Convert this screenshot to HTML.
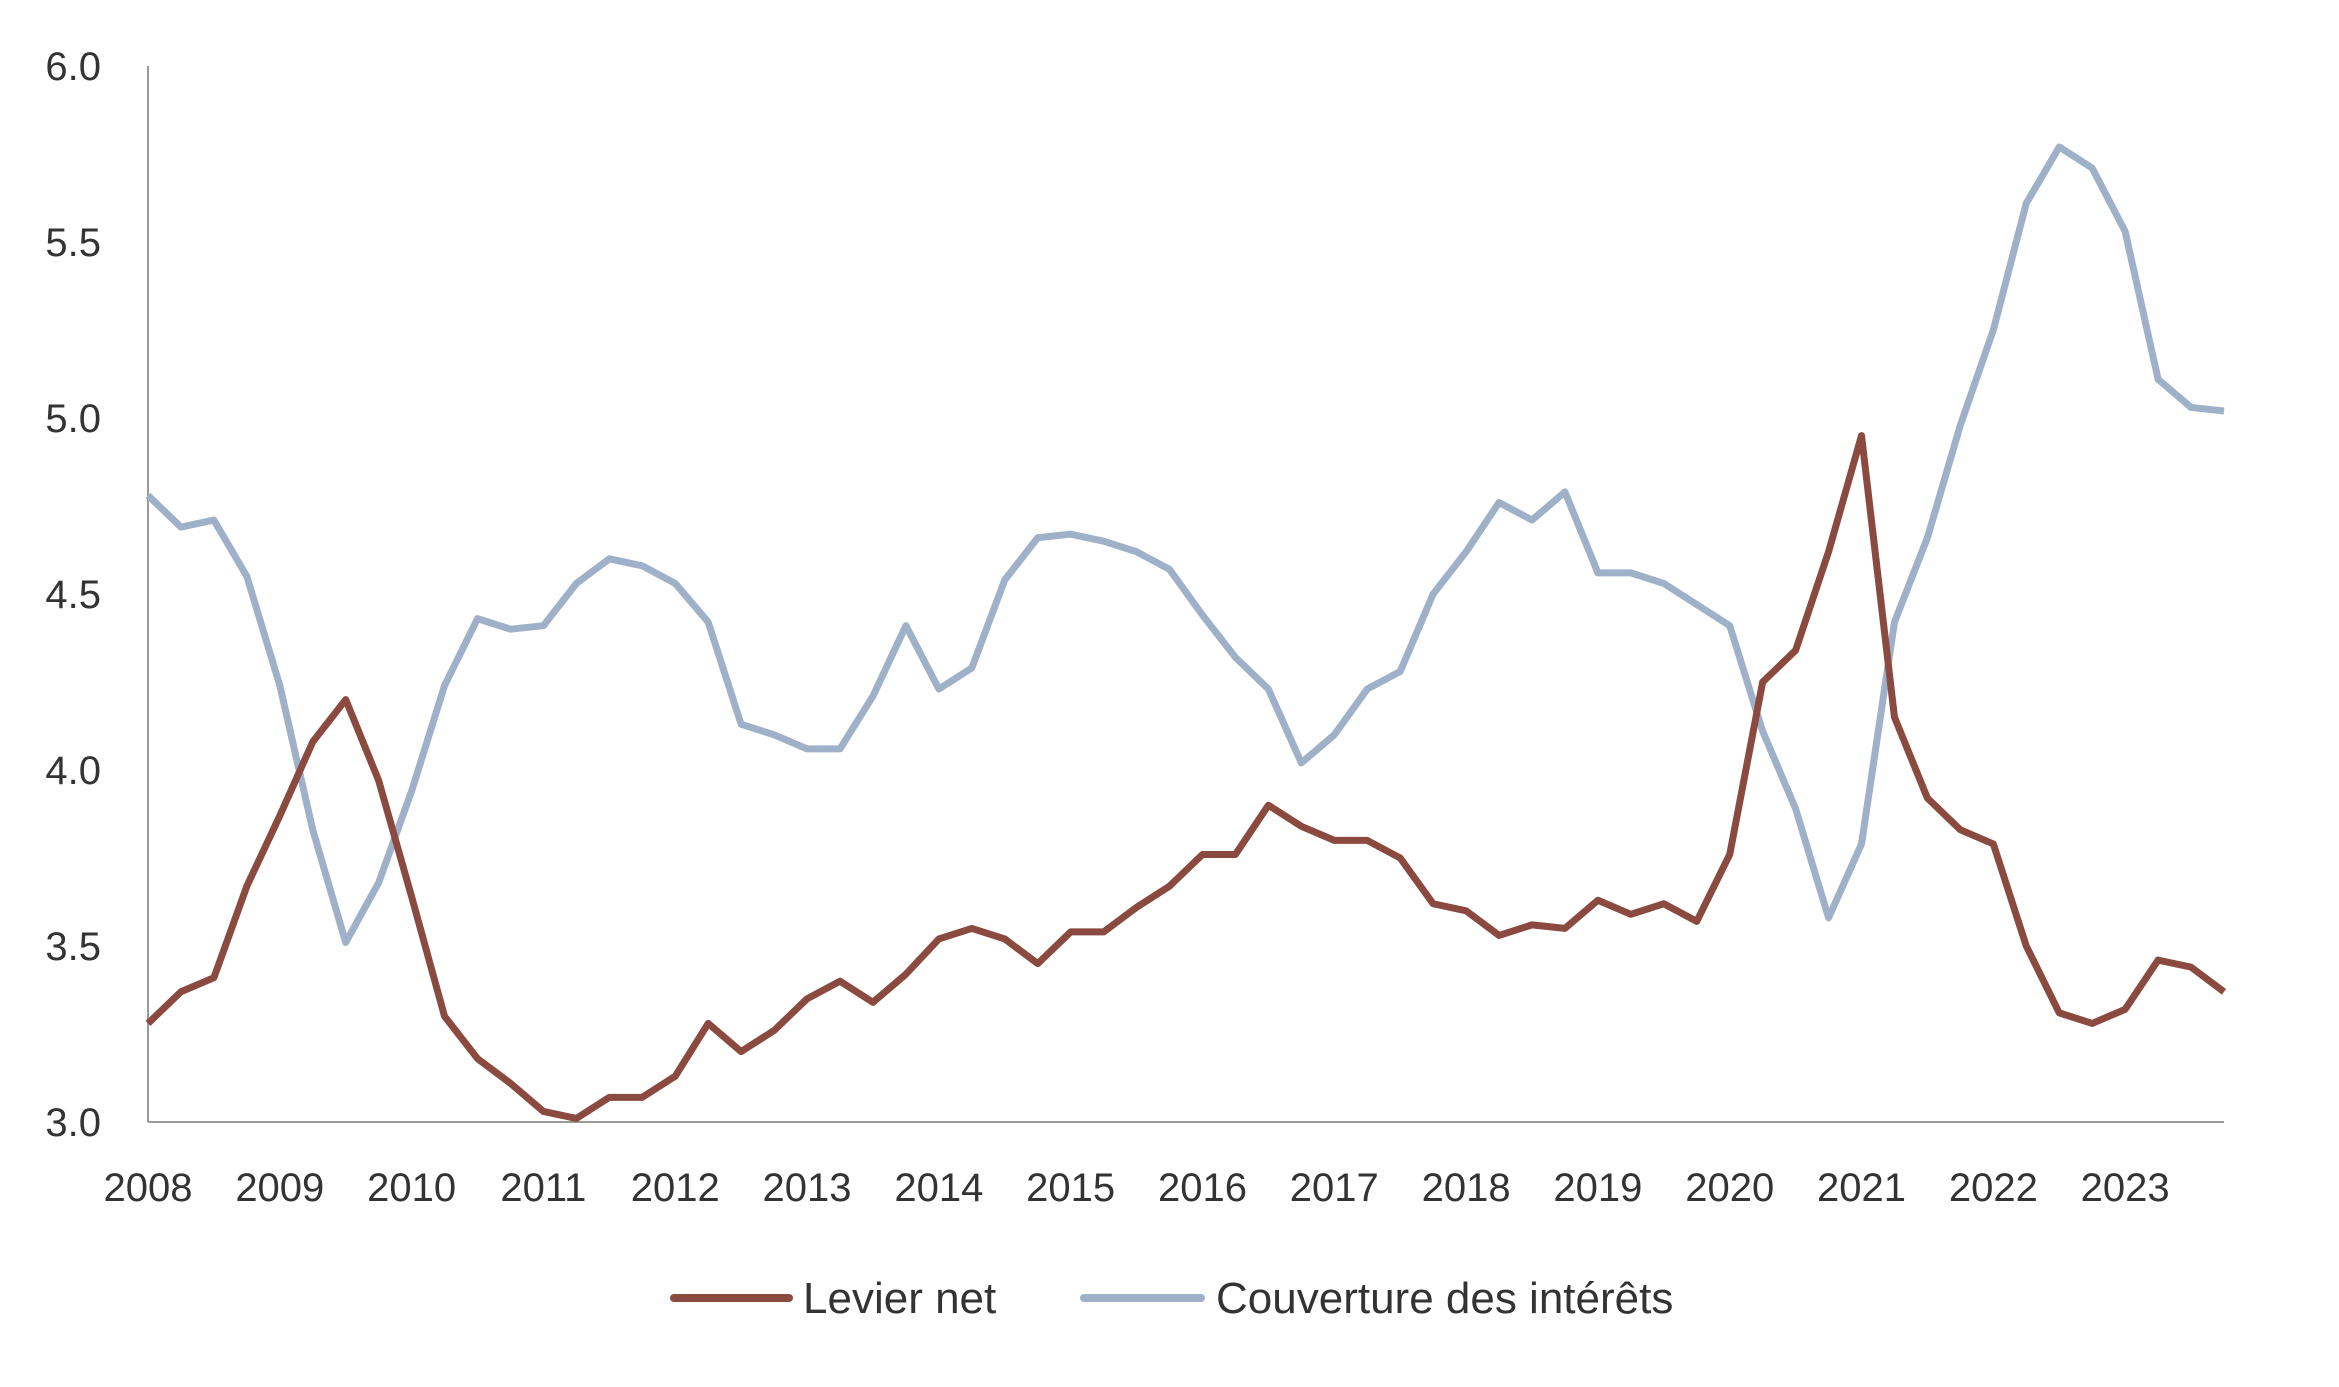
<!DOCTYPE html>
<html><head><meta charset="utf-8"><style>
html,body{margin:0;padding:0;background:#fff;}
svg{display:block;font-family:"Liberation Sans",sans-serif;}
</style></head><body>
<svg id="chart" width="2339" height="1387" viewBox="0 0 2339 1387" xmlns="http://www.w3.org/2000/svg">
<g id="axes"></g><g id="series"></g>
<g>
 <line x1="674" y1="1298" x2="789" y2="1298" stroke="#8B4A40" stroke-width="8" stroke-linecap="round"/>
 <text x="803" y="1313" font-size="44" fill="#333">Levier net</text>
 <line x1="1084" y1="1298" x2="1201" y2="1298" stroke="#9FB1C8" stroke-width="8" stroke-linecap="round"/>
 <text x="1216" y="1313" font-size="44" fill="#333">Couverture des intérêts</text>
</g>
</svg>
<script>
const years=[2008,2009,2010,2011,2012,2013,2014,2015,2016,2017,2018,2019,2020,2021,2022,2023];
const yTicks=[3.0,3.5,4.0,4.5,5.0,5.5,6.0];
const levierNet=[3.28,3.37,3.41,3.67,3.87,4.08,4.20,3.97,3.64,3.30,3.18,3.11,3.03,3.01,3.07,3.07,3.13,3.28,3.20,3.26,3.35,3.40,3.34,3.42,3.52,3.55,3.52,3.45,3.54,3.54,3.61,3.67,3.76,3.76,3.90,3.84,3.80,3.80,3.75,3.62,3.60,3.53,3.56,3.55,3.63,3.59,3.62,3.57,3.76,4.25,4.34,4.62,4.95,4.15,3.92,3.83,3.79,3.50,3.31,3.28,3.32,3.46,3.44,3.37];
const couverture=[4.78,4.69,4.71,4.55,4.24,3.83,3.51,3.68,3.94,4.24,4.43,4.40,4.41,4.53,4.60,4.58,4.53,4.42,4.13,4.10,4.06,4.06,4.21,4.41,4.23,4.29,4.54,4.66,4.67,4.65,4.62,4.57,4.44,4.32,4.23,4.02,4.10,4.23,4.28,4.50,4.62,4.76,4.71,4.79,4.56,4.56,4.53,4.47,4.41,4.11,3.89,3.58,3.79,4.42,4.66,4.98,5.25,5.61,5.77,5.71,5.53,5.11,5.03,5.02];
const NS="http://www.w3.org/2000/svg";
const X0=148,X1=2224,QW=(X1-X0)/63,Y0=1122,Y1=66;
function xq(i){return X0+i*QW;}
function y(v){return Y0-(v-3)/3*(Y0-Y1);}
const axes=document.getElementById('axes'),ser=document.getElementById('series');
function mk(tag,attrs,parent){const e=document.createElementNS(NS,tag);for(const k in attrs)e.setAttribute(k,attrs[k]);parent.appendChild(e);return e;}
let a=mk('line',{x1:X0,y1:Y1,x2:X0,y2:Y0,stroke:'#999','stroke-width':2},axes);


a=mk('line',{x1:X0,y1:Y0,x2:X1,y2:Y0,stroke:'#999','stroke-width':2},axes);


yTicks.forEach(v=>{const t=mk('text',{x:101,y:y(v)+14,'text-anchor':'end','font-size':40,fill:'#333'},axes);t.textContent=v.toFixed(1);

});
years.forEach((yr,k)=>{const t=mk('text',{x:xq(k*4),y:1201,'text-anchor':'middle','font-size':40,fill:'#333'},axes);t.textContent=yr;

});
function line(data,color,name){const p=mk('polyline',{points:data.map((v,i)=>xq(i)+','+y(v)).join(' '),fill:'none',stroke:color,'stroke-width':7,'stroke-linejoin':'round'},ser);

}
line(couverture,'#9FB1C8','couverture-line');
line(levierNet,'#8B4A40','levier-net-line');
</script>
</body></html>
